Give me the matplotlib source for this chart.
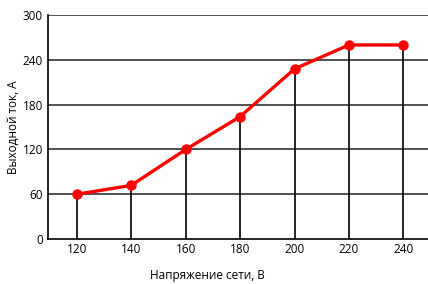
import matplotlib
matplotlib.use('Agg')
import matplotlib.pyplot as plt

voltage = [120, 140, 160, 180, 200, 220, 240]
current = [60, 72, 120, 164, 228, 260, 260]
x_ticks = [120, 140, 160, 180, 200, 220, 240]
y_ticks = [0, 60, 120, 180, 240, 300]

plt.rcParams['font.family'] = ['Open Sans', 'DejaVu Sans']

fig = plt.figure(figsize=(4.28, 2.84), dpi=100)
ax = fig.add_axes([0.112, 0.158, 0.888, 0.789])

# grid lines
for y in y_ticks[1:]:
    ax.axhline(y, color='#333333', lw=1.2, zorder=1)
# drop lines
ax.vlines(voltage, 0, current, color='black', lw=1.2, zorder=1)

ax.plot(voltage, current, color='#ff0000', lw=2.4, marker='o', ms=6.5, zorder=3)

ax.set_xlim(109.4, 249)
ax.set_ylim(0, 300)
ax.set_xticks(x_ticks)
ax.set_yticks(y_ticks)
ax.tick_params(length=0, labelsize=8.5, pad=3.5)
ax.tick_params(axis='x', pad=3)
for s in ['top', 'right']:
    ax.spines[s].set_visible(False)
ax.spines['left'].set_linewidth(1.2)
ax.spines['bottom'].set_linewidth(1.2)

fig.text(13 / 428, 1 - 127 / 284, 'Выходной ток, А', fontsize=8.5,
         rotation=90, ha='center', va='center')
fig.text(207 / 428, 1 - 275 / 284, 'Напряжение сети, В', fontsize=8.5,
         ha='center', va='center')

fig.savefig('out.png', dpi=100)
